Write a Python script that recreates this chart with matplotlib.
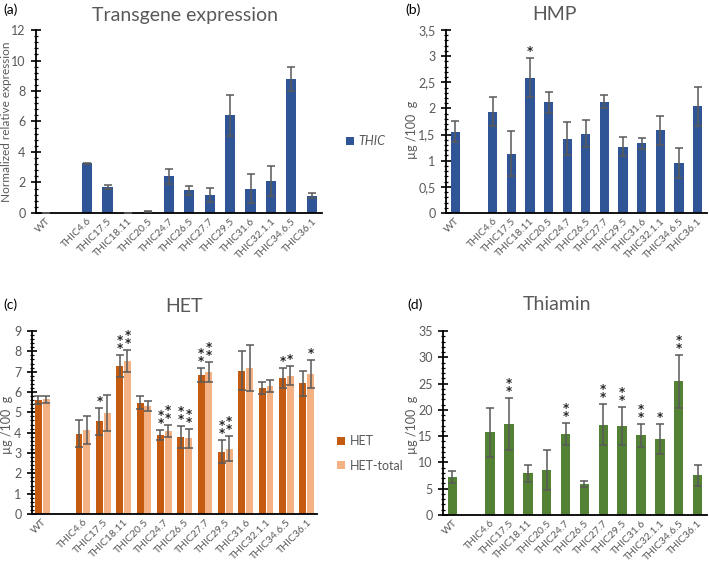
import matplotlib
matplotlib.use("Agg")
import matplotlib.pyplot as plt
import numpy as np
from matplotlib.ticker import MultipleLocator, FuncFormatter

plt.rcParams["font.family"] = ["Lato", "DejaVu Sans"]

# categories (index 1 is an empty slot in the original charts)
lines = ["WT", "", "THIC4.6", "THIC17.5", "THIC18.11", "THIC20.5", "THIC24.7",
         "THIC26.5", "THIC27.7", "THIC29.5", "THIC31.6", "THIC32.1.1",
         "THIC34.6.5", "THIC36.1"]

# (a) transgene expression
thic_expr = [0.02, None, 3.25, 1.7, 0.03, 0.08, 2.4, 1.5, 1.2, 6.4, 1.6, 2.07, 8.8, 1.13]
thic_err = [0.0, None, 0.05, 0.15, 0.0, 0.03, 0.5, 0.3, 0.45, 1.35, 0.95, 0.98, 0.8, 0.15]

# (b) HMP
hmp = [1.55, None, 1.94, 1.13, 2.59, 2.12, 1.42, 1.52, 2.13, 1.27, 1.33, 1.58, 0.96, 2.04]
hmp_err = [0.2, None, 0.28, 0.43, 0.38, 0.2, 0.32, 0.25, 0.12, 0.18, 0.1, 0.27, 0.29, 0.37]
hmp_sig = ["", "", "", "", "*", "", "", "", "", "", "", "", "", ""]

# (c) HET
het = [5.6, None, 3.95, 4.55, 7.28, 5.48, 3.9, 3.78, 6.85, 3.07, 7.05, 6.2, 6.68, 6.42]
het_err = [0.2, None, 0.65, 0.65, 0.55, 0.3, 0.25, 0.55, 0.35, 0.55, 0.95, 0.3, 0.5, 0.6]
het_sig = ["", "", "", "*", "**", "", "**", "**", "**", "**", "", "", "*", ""]
het_tot = [5.65, None, 4.12, 4.98, 7.52, 5.3, 4.07, 3.72, 6.98, 3.22, 7.18, 6.28, 6.8, 6.88]
het_tot_err = [0.17, None, 0.7, 0.88, 0.55, 0.25, 0.3, 0.45, 0.5, 0.62, 1.15, 0.3, 0.48, 0.68]
het_tot_sig = ["", "", "", "", "**", "", "**", "**", "**", "**", "", "", "*", "*"]

# (d) thiamin
thiamin = [7.2, None, 15.7, 17.3, 7.9, 8.6, 15.4, 5.9, 17.2, 17.0, 15.2, 14.5, 25.4, 7.6]
thiamin_err = [1.1, None, 4.6, 4.9, 1.6, 3.8, 2.1, 0.5, 3.9, 3.6, 2.2, 2.9, 5.0, 2.0]
thiamin_sig = ["", "", "", "**", "", "", "**", "", "**", "**", "**", "*", "**", ""]

BLUE = "#2F5597"
DARK_OR = "#C55A11"
LIGHT_OR = "#F4B183"
GREEN = "#548235"
GREY = "#595959"

W, H = 709, 562
fig = plt.figure(figsize=(W / 100, H / 100), dpi=100)


def ax_px(l, r, t, b):
    return fig.add_axes([l / W, 1 - b / H, (r - l) / W, (b - t) / H])


def clean(v):
    return [np.nan if x is None else x for x in v]


def style(ax, ymax, major, minor, comma=False):
    ax.set_xlim(-0.5, 13.5)
    ax.set_ylim(0, ymax)
    ax.yaxis.set_major_locator(MultipleLocator(major))
    ax.yaxis.set_minor_locator(MultipleLocator(minor))
    if comma:
        ax.yaxis.set_major_formatter(FuncFormatter(lambda v, p: f"{v:g}".replace(".", ",")))
    for s in ["top", "right"]:
        ax.spines[s].set_visible(False)
    ax.spines["left"].set_linewidth(1.3)
    ax.spines["bottom"].set_linewidth(1.3)
    ax.tick_params(axis="y", which="major", direction="inout", length=7, width=1.2,
                   labelsize=9, labelcolor=GREY, pad=4)
    ax.tick_params(axis="y", which="minor", direction="inout", length=3.5, width=0.9)
    ax.tick_params(axis="x", length=0, labelsize=7.5, labelcolor=GREY, pad=2.5)
    ax.set_xticks(range(len(lines)))
    ax.set_xticklabels(lines, rotation=45, ha="right", rotation_mode="anchor")


def stars(ax, xs, tops, sig, fs=8.5):
    for x, t, s in zip(xs, tops, sig):
        if s:
            ax.text(x, t, "\n".join(s), ha="center", va="bottom", fontsize=fs,
                    linespacing=0.5, fontweight="bold", color="#262626",
                    family="DejaVu Sans")


def bars(ax, xs, vals, errs, color, width):
    ax.bar(xs, clean(vals), width=width, color=color, zorder=2)
    ax.errorbar(xs, clean(vals), yerr=clean(errs), fmt="none", ecolor=GREY,
                elinewidth=1.1, capsize=2.8, capthick=1.1, zorder=3)


def ylab(ax, text, xpix, ymid, fs=9):
    fig.text(xpix / W, 1 - ymid / H, text, rotation=90, ha="center", va="center",
             fontsize=fs, color=GREY)


x = np.arange(len(lines))

# (a)
axa = ax_px(36, 322, 30, 213)
bars(axa, x, thic_expr, thic_err, BLUE, 0.5)
style(axa, 12, 2, 0.4)
ylab(axa, "Normalized relative expression", 7, 122, fs=8.5)
fig.text(185 / W, 1 - 15 / H, "Transgene expression", ha="center", va="center",
         fontsize=14, color=GREY)
fig.text(3 / W, 1 - 10 / H, "(a)", ha="left", va="center", fontsize=10)
axa.bar([np.nan], [np.nan], color=BLUE, label="THIC")
la = axa.legend(loc="center left", bbox_to_anchor=(335 / W, 1 - 141 / H),
                bbox_transform=fig.transFigure, frameon=False, fontsize=9,
                handlelength=0.6, handleheight=0.6, handletextpad=0.4)
for t in la.get_texts():
    t.set_color(GREY)
    t.set_style("italic")

# (b)
axb = ax_px(446, 707, 30, 213)
bars(axb, x, hmp, hmp_err, BLUE, 0.5)
style(axb, 3.5, 0.5, 0.1, comma=True)
stars(axb, x, [v + e if v is not None else 0 for v, e in zip(hmp, hmp_err)], hmp_sig)
ylab(axb, "µg /100  g", 412, 130)
fig.text(555 / W, 1 - 15 / H, "HMP", ha="center", va="center", fontsize=14, color=GREY)
fig.text(405 / W, 1 - 10 / H, "(b)", ha="left", va="center", fontsize=10)

# (c)
axc = ax_px(32, 317, 331, 514)
off = 0.19
bars(axc, x - off, het, het_err, DARK_OR, 0.34)
bars(axc, x + off, het_tot, het_tot_err, LIGHT_OR, 0.34)
style(axc, 9, 1, 0.2)
stars(axc, x - off, [v + e if v is not None else 0 for v, e in zip(het, het_err)], het_sig)
stars(axc, x + off, [v + e if v is not None else 0 for v, e in zip(het_tot, het_tot_err)],
      het_tot_sig)
ylab(axc, "µg /100  g", 7, 425)
fig.text(184 / W, 1 - 307 / H, "HET", ha="center", va="center", fontsize=14, color=GREY)
fig.text(3 / W, 1 - 305 / H, "(c)", ha="left", va="center", fontsize=10)
axc.bar([np.nan], [np.nan], color=DARK_OR, label="HET")
axc.bar([np.nan], [np.nan], color=LIGHT_OR, label="HET-total")
lc = axc.legend(loc="upper left", bbox_to_anchor=(326 / W, 1 - 424 / H),
                bbox_transform=fig.transFigure, frameon=False, fontsize=9,
                handlelength=0.6, handleheight=0.6, handletextpad=0.4, labelspacing=1.0)
for t in lc.get_texts():
    t.set_color(GREY)

# (d)
axd = ax_px(443, 707, 331, 515)
bars(axd, x, thiamin, thiamin_err, GREEN, 0.5)
style(axd, 35, 5, 1)
stars(axd, x, [v + e if v is not None else 0 for v, e in zip(thiamin, thiamin_err)],
      thiamin_sig)
ylab(axd, "µg /100  g", 412, 425)
fig.text(557 / W, 1 - 305 / H, "Thiamin", ha="center", va="center", fontsize=14, color=GREY)
fig.text(407 / W, 1 - 305 / H, "(d)", ha="left", va="center", fontsize=10)

fig.savefig("out.png", dpi=100)
